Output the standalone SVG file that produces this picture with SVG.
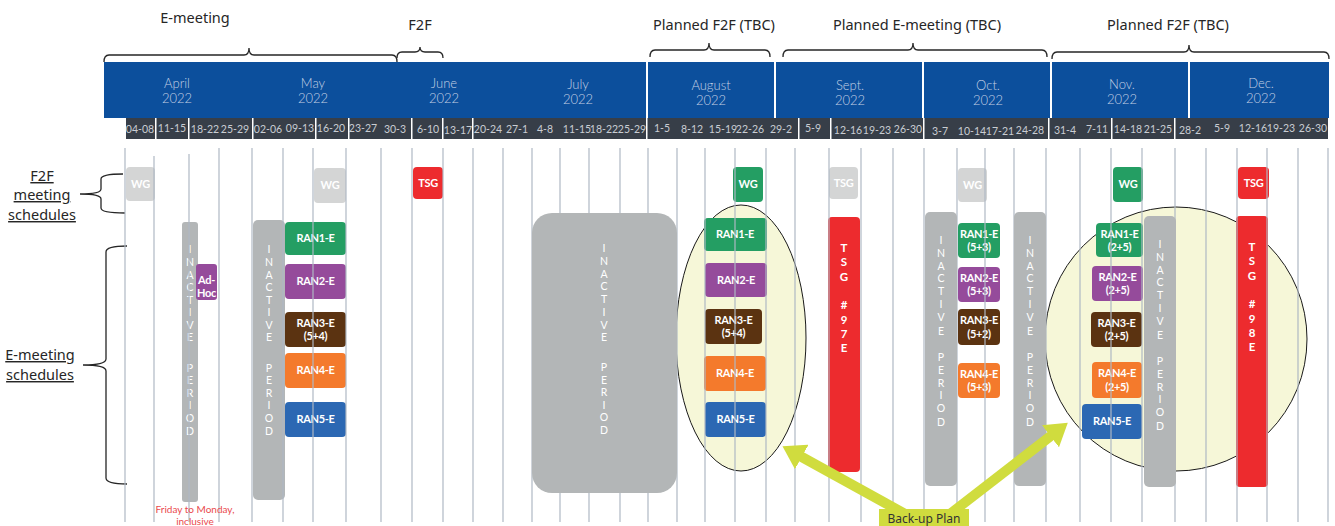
<svg xmlns="http://www.w3.org/2000/svg" width="1335" height="526" viewBox="0 0 1335 526">
<style>
.top{font-family:"Noto Sans","Open Sans",sans-serif;font-size:14.5px;fill:#262626;text-anchor:middle}
.side{font-family:"Noto Sans","Open Sans",sans-serif;font-size:14.5px;fill:#262626;text-anchor:middle;text-decoration:underline}
.brace{fill:none;stroke:#262626;stroke-width:1.3}
.mon{font-family:Lato,"Noto Sans",sans-serif;font-size:13px;fill:#c3cfe4;text-anchor:middle;font-weight:300}
.wk{font-family:Lato,"Noto Sans",sans-serif;font-size:10.5px;fill:#c9cdd3;text-anchor:middle}
.grid line{stroke:#aeb7c3;stroke-width:1.4;stroke-opacity:0.85}
.n{font-family:Lato,"Noto Sans",sans-serif;font-size:11px;font-weight:700;fill:#fff;text-anchor:middle;letter-spacing:-0.3px}
.v{font-family:Lato,"Noto Sans",sans-serif;font-size:10.5px;fill:#fff;text-anchor:middle}
.vt{font-family:Lato,"Noto Sans",sans-serif;font-size:11.5px;font-weight:700;fill:#fff;text-anchor:middle}
.gray{fill:#d4d5d5}.green{fill:#249e63}.purple{fill:#954b9b}.brown{fill:#5b3311}.orange{fill:#f47a2c}.blue{fill:#2c68b3}.red{fill:#ed2b2e}.inact{fill:#b3b6b7}
.oval{fill:#f6f7d8;stroke:#1a1a1a;stroke-width:1}
.arrow{stroke:#d0dc3e;stroke-width:10;fill:none}
</style>
<defs>
<marker id="ah" markerUnits="userSpaceOnUse" markerWidth="22" markerHeight="28" refX="2" refY="14" orient="auto"><path d="M0,0 L22,14 L0,28 z" fill="#d0dc3e"/></marker>
</defs>
<rect width="1335" height="526" fill="#fff"/>

<!-- top labels -->
<g id="top-labels">
<text class="top" x="195" y="23">E-meeting</text>
<text class="top" x="420" y="30">F2F</text>
<text class="top" x="714" y="30">Planned F2F (TBC)</text>
<text class="top" x="917" y="30">Planned E-meeting (TBC)</text>
<text class="top" x="1168" y="30">Planned F2F (TBC)</text>
<path class="brace" d="M104,62 Q104,55 109,55 L244,55 Q249,55 249,48 Q249,55 254,55 L392,55 Q397,55 397,62"/>
<path class="brace" d="M397,58 Q397,52 402,52 L415,52 Q420,52 420,47 Q420,52 425,52 L438,52 Q443,52 443,58"/>
<path class="brace" d="M650,57 Q650,50 655,50 L704,50 Q709,50 709,43 Q709,50 714,50 L765,50 Q770,50 770,57"/>
<path class="brace" d="M783,57 Q783,50 788,50 L908,50 Q913,50 913,43 Q913,50 918,50 L1042,50 Q1047,50 1047,57"/>
<path class="brace" d="M1052,59 Q1052,52 1057,52 L1184,52 Q1189,52 1189,45 Q1189,52 1194,52 L1324,52 Q1329,52 1329,59"/>
</g>

<!-- header band -->
<g id="header">
<rect x="104" y="62" width="1225" height="56" fill="#0c4f9c"/>
<g fill="#fff">
<rect x="646" y="62" width="2" height="56"/>
<rect x="774" y="62" width="2" height="56"/>
<rect x="922" y="62" width="2" height="56"/>
<rect x="1050" y="62" width="2" height="56"/>
<rect x="1188" y="62" width="2" height="56"/>
</g>
<text class="mon" x="177" y="88">April</text><text class="mon" x="177" y="103">2022</text>
<text class="mon" x="313" y="88">May</text><text class="mon" x="313" y="103">2022</text>
<text class="mon" x="444" y="88">June</text><text class="mon" x="444" y="103">2022</text>
<text class="mon" x="578" y="89">July</text><text class="mon" x="578" y="104">2022</text>
<text class="mon" x="711" y="90">August</text><text class="mon" x="711" y="105">2022</text>
<text class="mon" x="850" y="90">Sept.</text><text class="mon" x="850" y="105">2022</text>
<text class="mon" x="988" y="90">Oct.</text><text class="mon" x="988" y="105">2022</text>
<text class="mon" x="1122" y="89">Nov.</text><text class="mon" x="1122" y="104">2022</text>
<text class="mon" x="1261" y="88">Dec.</text><text class="mon" x="1261" y="103">2022</text>
<rect x="126" y="118" width="1202" height="21" fill="#373e48"/>
<g fill="#fff">
<rect x="155" y="118" width="1.5" height="21"/><rect x="188" y="118" width="1.5" height="21"/>
<rect x="252" y="118" width="1.5" height="21"/><rect x="315" y="118" width="1.5" height="21"/>
<rect x="348" y="118" width="1.5" height="21"/><rect x="411" y="118" width="1.5" height="21"/>
<rect x="442" y="118" width="1.5" height="21"/><rect x="472" y="118" width="1.5" height="21"/>
<rect x="646" y="118" width="1.5" height="21"/><rect x="798" y="118" width="1.5" height="21"/>
<rect x="830" y="118" width="1.5" height="21"/><rect x="923" y="118" width="1.5" height="21"/>
<rect x="1048" y="118" width="1.5" height="21"/><rect x="1111" y="118" width="1.5" height="21"/>
<rect x="1174" y="118" width="1.5" height="21"/>
</g>
<text class="wk" x="140" y="133">04-08</text><text class="wk" x="172" y="132">11-15</text>
<text class="wk" x="205" y="133">18-22</text><text class="wk" x="235" y="133">25-29</text>
<text class="wk" x="268" y="133">02-06</text><text class="wk" x="300" y="132">09-13</text>
<text class="wk" x="331" y="132">16-20</text><text class="wk" x="363" y="132">23-27</text>
<text class="wk" x="395" y="133">30-3</text><text class="wk" x="428" y="133">6-10</text>
<text class="wk" x="458" y="134">13-17</text><text class="wk" x="488" y="133">20-24</text>
<text class="wk" x="517" y="133">27-1</text><text class="wk" x="545" y="133">4-8</text>
<text class="wk" x="577" y="133">11-15</text><text class="wk" x="604" y="133">18-22</text>
<text class="wk" x="632" y="133">25-29</text><text class="wk" x="662" y="132">1-5</text>
<text class="wk" x="692" y="133">8-12</text><text class="wk" x="723" y="133">15-19</text>
<text class="wk" x="750" y="133">22-26</text><text class="wk" x="781" y="133">29-2</text>
<text class="wk" x="813" y="132">5-9</text><text class="wk" x="848" y="134">12-16</text>
<text class="wk" x="877" y="134">19-23</text><text class="wk" x="908" y="133">26-30</text>
<text class="wk" x="940" y="135">3-7</text><text class="wk" x="972" y="135">10-14</text>
<text class="wk" x="1000" y="135">17-21</text><text class="wk" x="1030" y="134">24-28</text>
<text class="wk" x="1065" y="134">31-4</text><text class="wk" x="1097" y="133">7-11</text>
<text class="wk" x="1128" y="133">14-18</text><text class="wk" x="1158" y="133">21-25</text>
<text class="wk" x="1190" y="134">28-2</text><text class="wk" x="1222" y="132">5-9</text>
<text class="wk" x="1253" y="132">12-16</text><text class="wk" x="1281" y="132">19-23</text>
<text class="wk" x="1313" y="132">26-30</text>
</g>

<!-- side labels -->
<g id="side-f2f">
<text class="side" x="42" y="181">F2F</text>
<text class="side" x="42" y="200">meeting</text>
<text class="side" x="42" y="220">schedules</text>
<path class="brace" d="M123,174 Q101,174 101,179 L101,189 Q101,194 80,194 Q101,194 101,199 L101,208 Q101,213 125,213"/>
</g>
<g id="side-emeeting">
<text class="side" x="40" y="360">E-meeting</text>
<text class="side" x="40" y="380">schedules</text>
<path class="brace" d="M127,246 Q106,246 106,252 L106,359 Q106,365 83,365 Q106,365 106,371 L106,478 Q106,484 127,484"/>
</g>

<!-- back-up ovals -->
<ellipse class="oval" cx="741" cy="338" rx="65" ry="133"/>
<ellipse class="oval" cx="1176" cy="339" rx="131" ry="132"/>

<!-- nodes -->
<g id="wg-apr"><rect class="gray" x="126" y="167" width="29" height="34" rx="4"/><text class="n" x="140.5" y="188">WG</text></g>
<g id="wg-may"><rect class="gray" x="314" y="168" width="32" height="35" rx="4"/><text class="n" x="330" y="189">WG</text></g>
<g id="tsg-jun"><rect class="red" x="413" y="167" width="30" height="32" rx="4"/><text class="n" x="428" y="187">TSG</text></g>
<g id="wg-aug"><rect class="green" x="733" y="167" width="30" height="35" rx="4"/><text class="n" x="748" y="188">WG</text></g>
<g id="tsg-sep"><rect class="gray" x="829" y="167" width="29" height="32" rx="4"/><text class="n" x="843.5" y="187">TSG</text></g>
<g id="wg-oct"><rect class="gray" x="958" y="168" width="29" height="34" rx="4"/><text class="n" x="972.5" y="189">WG</text></g>
<g id="wg-nov"><rect class="green" x="1113" y="167" width="30" height="35" rx="4"/><text class="n" x="1128" y="188">WG</text></g>
<g id="tsg-dec"><rect class="red" x="1238" y="167" width="31" height="32" rx="4"/><text class="n" x="1253.5" y="187">TSG</text></g>

<g id="may-ran">
<g id="ran1-may"><rect class="green" x="285" y="222" width="61" height="33" rx="4"/><text class="n" x="315.5" y="242">RAN1-E</text></g>
<g id="ran2-may"><rect class="purple" x="285" y="264" width="61" height="35" rx="4"/><text class="n" x="315.5" y="285">RAN2-E</text></g>
<g id="ran3-may"><rect class="brown" x="285" y="312" width="61" height="35" rx="4"/><text class="n" x="315.5" y="327">RAN3-E</text><text class="n" x="315.5" y="340">(5+4)</text></g>
<g id="ran4-may"><rect class="orange" x="285" y="353" width="61" height="35" rx="4"/><text class="n" x="315.5" y="374">RAN4-E</text></g>
<g id="ran5-may"><rect class="blue" x="285" y="402" width="61" height="35" rx="4"/><text class="n" x="315.5" y="423">RAN5-E</text></g>
</g>

<g id="aug-ran">
<g id="ran1-aug"><rect class="green" x="704" y="218" width="63" height="33" rx="4"/><text class="n" x="735" y="238">RAN1-E</text></g>
<g id="ran2-aug"><rect class="purple" x="705" y="263" width="62" height="34" rx="4"/><text class="n" x="736" y="284">RAN2-E</text></g>
<g id="ran3-aug"><rect class="brown" x="705" y="309" width="57" height="35" rx="4"/><text class="n" x="733.5" y="324">RAN3-E</text><text class="n" x="733.5" y="337">(5+4)</text></g>
<g id="ran4-aug"><rect class="orange" x="704" y="356" width="62" height="35" rx="4"/><text class="n" x="735" y="377">RAN4-E</text></g>
<g id="ran5-aug"><rect class="blue" x="705" y="402" width="61" height="35" rx="4"/><text class="n" x="735.5" y="423">RAN5-E</text></g>
</g>

<g id="oct-ran">
<g id="ran1-oct"><rect class="green" x="958" y="223" width="42" height="35" rx="4"/><text class="n" x="979" y="238">RAN1-E</text><text class="n" x="979" y="251">(5+3)</text></g>
<g id="ran2-oct"><rect class="purple" x="958" y="267" width="42" height="35" rx="4"/><text class="n" x="979" y="282">RAN2-E</text><text class="n" x="979" y="295">(5+3)</text></g>
<g id="ran3-oct"><rect class="brown" x="958" y="309" width="42" height="36" rx="4"/><text class="n" x="979" y="324">RAN3-E</text><text class="n" x="979" y="338">(5+2)</text></g>
<g id="ran4-oct"><rect class="orange" x="958" y="363" width="42" height="35" rx="4"/><text class="n" x="979" y="378">RAN4-E</text><text class="n" x="979" y="391">(5+3)</text></g>
</g>

<g id="nov-ran">
<g id="ran1-nov"><rect class="green" x="1096" y="223" width="47" height="34" rx="4"/><text class="n" x="1119.5" y="238">RAN1-E</text><text class="n" x="1119.5" y="251">(2+5)</text></g>
<g id="ran2-nov"><rect class="purple" x="1092" y="266" width="51" height="35" rx="4"/><text class="n" x="1117.5" y="281">RAN2-E</text><text class="n" x="1117.5" y="294">(2+5)</text></g>
<g id="ran3-nov"><rect class="brown" x="1091" y="312" width="51" height="35" rx="4"/><text class="n" x="1116.5" y="327">RAN3-E</text><text class="n" x="1116.5" y="340">(2+5)</text></g>
<g id="ran4-nov"><rect class="orange" x="1092" y="362" width="50" height="36" rx="4"/><text class="n" x="1117" y="377">RAN4-E</text><text class="n" x="1117" y="391">(2+5)</text></g>
<g id="ran5-nov"><rect class="blue" x="1082" y="404" width="60" height="35" rx="4"/><text class="n" x="1112" y="425">RAN5-E</text></g>
</g>

<g id="inactive-apr"><rect class="inact" x="182" y="222" width="16" height="280" rx="3"/>
<text class="v" x="190"><tspan x="190" y="253">I</tspan><tspan x="190" y="266">N</tspan><tspan x="190" y="279">A</tspan><tspan x="190" y="291">C</tspan><tspan x="190" y="304">T</tspan><tspan x="190" y="316">I</tspan><tspan x="190" y="329">V</tspan><tspan x="190" y="341">E</tspan><tspan x="190" y="372">P</tspan><tspan x="190" y="384">E</tspan><tspan x="190" y="397">R</tspan><tspan x="190" y="409">I</tspan><tspan x="190" y="422">O</tspan><tspan x="190" y="435">D</tspan></text></g>
<g id="adhoc"><rect class="purple" x="196" y="264" width="21" height="36" rx="3"/><text class="n" x="206.5" y="284">Ad-</text><text class="n" x="206.5" y="297">Hoc</text></g>

<g id="inactive-may"><rect class="inact" x="253" y="220" width="32" height="280" rx="5"/>
<text class="v"><tspan x="269" y="253">I</tspan><tspan x="269" y="266">N</tspan><tspan x="269" y="279">A</tspan><tspan x="269" y="291">C</tspan><tspan x="269" y="304">T</tspan><tspan x="269" y="316">I</tspan><tspan x="269" y="329">V</tspan><tspan x="269" y="341">E</tspan><tspan x="269" y="372">P</tspan><tspan x="269" y="384">E</tspan><tspan x="269" y="397">R</tspan><tspan x="269" y="409">I</tspan><tspan x="269" y="422">O</tspan><tspan x="269" y="435">D</tspan></text></g>

<g id="tsg97"><rect class="red" x="828" y="217" width="32" height="255" rx="4"/>
<text class="vt"><tspan x="844" y="252">T</tspan><tspan x="844" y="266">S</tspan><tspan x="844" y="281">G</tspan><tspan x="844" y="309">#</tspan><tspan x="844" y="324">9</tspan><tspan x="844" y="338">7</tspan><tspan x="844" y="352">E</tspan></text></g>

<g id="tsg98"><rect class="red" x="1236" y="216" width="32" height="271" rx="4"/>
<text class="vt"><tspan x="1252" y="251">T</tspan><tspan x="1252" y="265">S</tspan><tspan x="1252" y="280">G</tspan><tspan x="1252" y="308">#</tspan><tspan x="1252" y="323">9</tspan><tspan x="1252" y="337">8</tspan><tspan x="1252" y="351">E</tspan></text></g>

<!-- grid lines -->
<g class="grid">
<line x1="125" y1="148" x2="125" y2="522"/><line x1="154" y1="156" x2="154" y2="522"/>
<line x1="189" y1="154" x2="189" y2="522"/><line x1="219" y1="148" x2="219" y2="522"/>
<line x1="252" y1="148" x2="252" y2="522"/><line x1="283" y1="148" x2="283" y2="522"/>
<line x1="313" y1="148" x2="313" y2="522"/><line x1="346" y1="148" x2="346" y2="522"/>
<line x1="381" y1="148" x2="381" y2="522"/><line x1="412" y1="148" x2="412" y2="522"/>
<line x1="443" y1="148" x2="443" y2="522"/><line x1="473" y1="148" x2="473" y2="522"/>
<line x1="503" y1="148" x2="503" y2="522"/><line x1="532" y1="148" x2="532" y2="522"/>
<line x1="560" y1="148" x2="560" y2="522"/><line x1="589" y1="148" x2="589" y2="522"/>
<line x1="620" y1="148" x2="620" y2="522"/><line x1="648" y1="148" x2="648" y2="522"/>
<line x1="677" y1="148" x2="677" y2="522"/><line x1="705" y1="148" x2="705" y2="522"/>
<line x1="735" y1="148" x2="735" y2="522"/><line x1="766" y1="148" x2="766" y2="522"/>
<line x1="795" y1="148" x2="795" y2="522"/><line x1="829" y1="148" x2="829" y2="522"/>
<line x1="861" y1="148" x2="861" y2="522"/><line x1="893" y1="148" x2="893" y2="522"/>
<line x1="924" y1="148" x2="924" y2="522"/><line x1="957" y1="148" x2="957" y2="522"/>
<line x1="985" y1="148" x2="985" y2="522"/><line x1="1014" y1="148" x2="1014" y2="522"/>
<line x1="1046" y1="148" x2="1046" y2="522"/><line x1="1080" y1="148" x2="1080" y2="522"/>
<line x1="1111" y1="148" x2="1111" y2="522"/><line x1="1142" y1="148" x2="1142" y2="522"/>
<line x1="1175" y1="148" x2="1175" y2="522"/><line x1="1206" y1="148" x2="1206" y2="522"/>
<line x1="1237" y1="148" x2="1237" y2="522"/><line x1="1267" y1="148" x2="1267" y2="522"/>
<line x1="1298" y1="148" x2="1298" y2="522"/><line x1="1328" y1="148" x2="1328" y2="522"/>
</g>

<g id="inactive-jul"><rect class="inact" x="532" y="213" width="145" height="280" rx="20"/>
<text class="v"><tspan x="604" y="252">I</tspan><tspan x="604" y="265">N</tspan><tspan x="604" y="278">A</tspan><tspan x="604" y="290">C</tspan><tspan x="604" y="303">T</tspan><tspan x="604" y="316">I</tspan><tspan x="604" y="329">V</tspan><tspan x="604" y="341">E</tspan><tspan x="604" y="371">P</tspan><tspan x="604" y="384">E</tspan><tspan x="604" y="396">R</tspan><tspan x="604" y="409">I</tspan><tspan x="604" y="421">O</tspan><tspan x="604" y="434">D</tspan></text></g>

<g id="inactive-oct1"><rect class="inact" x="925" y="212" width="32" height="274" rx="5"/>
<text class="v"><tspan x="941" y="244">I</tspan><tspan x="941" y="257">N</tspan><tspan x="941" y="270">A</tspan><tspan x="941" y="282">C</tspan><tspan x="941" y="295">T</tspan><tspan x="941" y="308">I</tspan><tspan x="941" y="321">V</tspan><tspan x="941" y="335">E</tspan><tspan x="941" y="361">P</tspan><tspan x="941" y="374">E</tspan><tspan x="941" y="387">R</tspan><tspan x="941" y="399">I</tspan><tspan x="941" y="412">O</tspan><tspan x="941" y="426">D</tspan></text></g>

<g id="inactive-oct2"><rect class="inact" x="1014" y="212" width="32" height="274" rx="5"/>
<text class="v"><tspan x="1030" y="244">I</tspan><tspan x="1030" y="257">N</tspan><tspan x="1030" y="270">A</tspan><tspan x="1030" y="282">C</tspan><tspan x="1030" y="295">T</tspan><tspan x="1030" y="308">I</tspan><tspan x="1030" y="321">V</tspan><tspan x="1030" y="335">E</tspan><tspan x="1030" y="361">P</tspan><tspan x="1030" y="374">E</tspan><tspan x="1030" y="387">R</tspan><tspan x="1030" y="399">I</tspan><tspan x="1030" y="412">O</tspan><tspan x="1030" y="426">D</tspan></text></g>

<g id="inactive-nov"><rect class="inact" x="1144" y="216" width="32" height="271" rx="5"/>
<text class="v"><tspan x="1160" y="248">I</tspan><tspan x="1160" y="261">N</tspan><tspan x="1160" y="274">A</tspan><tspan x="1160" y="286">C</tspan><tspan x="1160" y="299">T</tspan><tspan x="1160" y="312">I</tspan><tspan x="1160" y="325">V</tspan><tspan x="1160" y="339">E</tspan><tspan x="1160" y="365">P</tspan><tspan x="1160" y="378">E</tspan><tspan x="1160" y="391">R</tspan><tspan x="1160" y="403">I</tspan><tspan x="1160" y="416">O</tspan><tspan x="1160" y="430">D</tspan></text></g>

<text x="195" y="513" font-family="Lato,'Noto Sans',sans-serif" font-size="10px" fill="#ea4a4d" text-anchor="middle">Friday to Monday,</text>
<text x="195" y="525" font-family="Lato,'Noto Sans',sans-serif" font-size="10px" fill="#ea4a4d" text-anchor="middle">inclusive</text>

<!-- connectors -->
<g id="connectors">
<line class="arrow" x1="905" y1="514" x2="800" y2="456" marker-end="url(#ah)"/>
<line class="arrow" x1="950" y1="514" x2="1052" y2="435" marker-end="url(#ah)"/>
</g>
<g id="backup-plan"><rect x="879" y="509" width="90" height="20" fill="#d0dc3e"/>
<text x="924" y="523" font-family="'Noto Sans','Open Sans',sans-serif" font-size="12px" fill="#333" text-anchor="middle">Back-up Plan</text></g>
</svg>
